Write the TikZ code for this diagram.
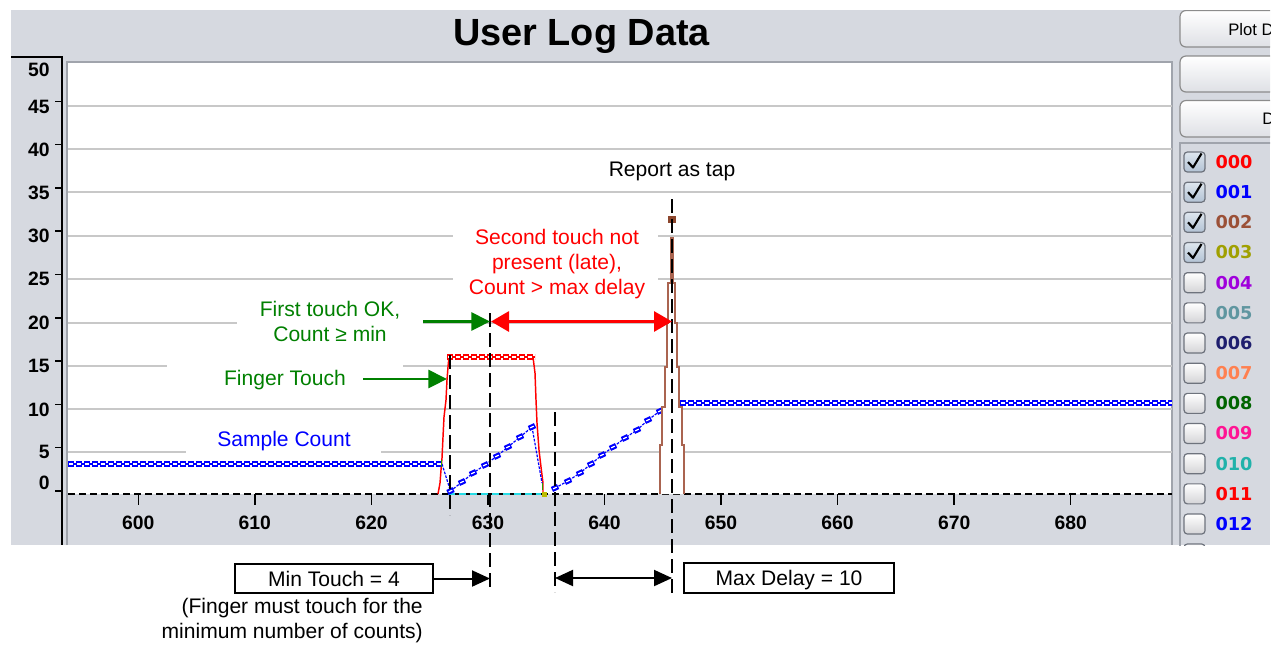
\documentclass[tikz,border=0pt]{standalone}
\usepackage{fontspec}
\setmainfont{Liberation Sans}
\newfontfamily\listfont{DejaVu Sans}
\usetikzlibrary{arrows.meta}

\definecolor{panel}{RGB}{214,217,224}
\definecolor{frame}{RGB}{160,164,172}
\definecolor{gridgray}{RGB}{200,200,200}
\definecolor{tgreen}{RGB}{0,128,0}
\definecolor{tred}{RGB}{255,0,0}
\definecolor{tblue}{RGB}{0,0,255}
\definecolor{spikebrown}{RGB}{170,100,80}
\definecolor{spikemark}{RGB}{140,70,45}
\definecolor{zcyan}{RGB}{40,220,230}
\definecolor{c000}{RGB}{255,0,0}
\definecolor{c001}{RGB}{0,0,255}
\definecolor{c002}{RGB}{155,80,55}
\definecolor{c003}{RGB}{160,160,0}
\definecolor{c004}{RGB}{160,0,220}
\definecolor{c005}{RGB}{95,150,160}
\definecolor{c006}{RGB}{30,30,110}
\definecolor{c007}{RGB}{255,128,80}
\definecolor{c008}{RGB}{0,100,0}
\definecolor{c009}{RGB}{255,20,147}
\definecolor{c010}{RGB}{32,178,170}
\definecolor{c011}{RGB}{255,0,0}
\definecolor{c012}{RGB}{0,0,255}
\definecolor{btnborder}{RGB}{140,140,140}
\definecolor{boxborder}{RGB}{110,115,125}

% patterned trace: hollow blocks joined by a thin line
\newcommand\ladderline[2]{%
  \draw[#1, line width=0.8pt] #2;
  \draw[#1, line width=4.5pt, dash pattern=on 4.8pt off 1.2pt] #2;
  \draw[white, line width=1pt, dash pattern=on 2.8pt off 3.2pt, dash phase=5.1pt] #2;}
% one sample marker of the count trace
\newcommand\rampmark[2]{%
  \begin{scope}[rotate around={25:(#1,#2)}]
    \fill[c001] (#1-3.4,#2-2.7) rectangle (#1+3.4,#2+2.7);
    \draw[white, line width=0.9pt] (#1-2,#2) -- (#1+2,#2);
  \end{scope}}

\begin{document}
\begin{tikzpicture}[x=0.75pt,y=-0.75pt,
  note/.style={font=\fontsize{15.8}{18.75}\selectfont, inner sep=0pt},
  axislabel/.style={font=\fontsize{14.5}{16}\selectfont\bfseries, inner sep=0pt},
  gridline/.style={gridgray, line width=1.1pt},
  guide/.style={black, line width=1.5pt, dash pattern=on 10.5pt off 4.5pt},
  valbox/.style={draw, line width=1.1pt, inner sep=0pt, text depth=0pt,
    font=\fontsize{15.8}{18.75}\selectfont},
  greenarrow/.style={tgreen, line width=2.1pt, -{Triangle[length=14pt,width=13.5pt]}},
  redarrow/.style={tred, line width=2.25pt, {Triangle[length=13.5pt,width=15pt]}-{Triangle[length=13.5pt,width=15pt]}},
  blackarrow/.style={black, line width=1.5pt, -{Triangle[length=13.5pt,width=12pt]}},
  blackdouble/.style={black, line width=1.5pt, {Triangle[length=13.5pt,width=12pt]}-{Triangle[length=13.5pt,width=12pt]}},
  button/.style={draw=btnborder, line width=0.9pt, top color=white, bottom color={rgb,255:red,222;green,224;blue,229}, rounded corners=4.5pt},
  checkbox/.style={draw=boxborder, line width=0.9pt, rounded corners=2.5pt},
]
\useasboundingbox (0,0) rectangle (1276,644);
\fill[white] (0,0) rectangle (1276,644);
\fill[panel] (11,10) rectangle (1270,545);

% ---- title
\node[font=\fontsize{28.4}{30}\selectfont\bfseries, anchor=base, inner sep=0pt] (title) at (581.5,45) {User Log Data};

% ---- plot area
\fill[white] (68,62) rectangle (1172,494);
\draw[frame, line width=1.5pt] (67,545) -- (67,61.5) -- (1172,61.5) -- (1172,545);

% grid lines (broken where the notes sit)
\draw[gridline] (68,106) -- (1172,106);
\draw[gridline] (68,149) -- (1172,149);
\draw[gridline] (68,192) -- (1172,192);
\draw[gridline] (68,236) -- (453,236) (658,236) -- (1172,236);
\draw[gridline] (68,279) -- (453,279) (658,279) -- (1172,279);
\draw[gridline] (68,323) -- (237,323) (423,323) -- (1172,323);
\draw[gridline] (68,366) -- (167,366) (403,366) -- (1172,366);
\draw[gridline] (68,409) -- (1172,409);
\draw[gridline] (68,452) -- (186,452) (381,452) -- (1172,452);

% y axis
\draw[black, line width=1.5pt] (11,57) -- (62,57) -- (62,545);
\foreach \v in {0,5,...,45} {
  \pgfmathsetmacro\yy{491-8.66*\v}
  \draw[black, line width=1.1pt] (55,\yy) -- (62,\yy);
}
\foreach \v/\yy in {50/70,45/107,40/150,35/193,30/236,25/279,20/323,15/366,10/410,5/452,0/483}
  \node[axislabel, anchor=east] (yl\v) at (50,\yy) {\v};

% zero line and x axis
\draw[black, line width=1.5pt, dash pattern=on 5.25pt off 3pt] (68,494) -- (1172,494);
\foreach \c in {600,610,...,680} {
  \pgfmathsetmacro\xx{138.3+11.655*(\c-600)}
  \draw[black, line width=1.1pt] (\xx,494) -- (\xx,505);
  \node[axislabel] (xl\c) at (\xx,523) {\c};
}
\draw[zcyan, line width=1.5pt, dash pattern=on 5.25pt off 3pt] (448,494) -- (541,494);

% ---- finger touch trace (000)
\draw[c000, line width=1.1pt] (438,494) -- (440,483) -- (441,470) -- (442,458) -- (443,437)
  -- (444,417) -- (446,400) -- (447,380) -- (448,367) -- (449,357);
\draw[c000, line width=1.1pt] (533,357) -- (535,373) -- (536,400) -- (537,423) -- (539,450)
  -- (541,467) -- (543,483) -- (543,494);
\ladderline{c000}{(447,357) -- (535,357)}

% ---- sample count trace (001)
\ladderline{c001}{(68,464) -- (442,464)}
\ladderline{c001}{(672,403) -- (1172,403)}
\draw[c001, line width=0.9pt, dash pattern=on 2pt off 1pt] (442,464) -- (450.5,491) -- (462,482) -- (473,473) -- (485,465)
  -- (497,456) -- (508,447) -- (520,437) -- (532,427) -- (542,483);
\draw[c001, line width=0.9pt, dash pattern=on 2pt off 1pt] (555,488) -- (568,481) -- (580,473) -- (591,464) -- (602,455)
  -- (613,447) -- (625,438) -- (637,430) -- (648,420) -- (660,411) -- (672,403);
\foreach \x/\y in {450.5/491,462/482,473/473,485/465,497/456,508/447,520/437,532/427,
  555/488,568/481,580/473,591/464,602/455,613/447,625/438,637/430,648/420,660/411}
  {\rampmark{\x}{\y}}
\draw[tgreen!80!lime, line width=1.1pt] (441.5,460) -- (441.5,467);
\draw[tgreen!80!lime, line width=1.1pt] (542.5,483) -- (542.5,490);
\fill[c003!70!yellow] (541.5,491.5) rectangle (546.5,496.5);

% ---- tap spike (002)
\filldraw[fill=white, draw=spikebrown, line width=1.5pt]
  (660,494) -- (660,445) -- (662,445) -- (662,407) -- (665,407) -- (665,367) -- (667,367)
  -- (667,323) -- (668,323) -- (668,283) -- (671,283) -- (671,238) -- (673,238) -- (673,283)
  -- (675,283) -- (675,323) -- (677,323) -- (677,367) -- (679,367) -- (679,407) -- (682,407)
  -- (682,445) -- (684,445) -- (684,494);
\fill[spikemark] (668,216) rectangle (676,223);

% ---- guide lines
\coordinate (v1t) at (450,355);  \coordinate (v1b) at (450,515);
\coordinate (v2t) at (490,313);  \coordinate (v2b) at (490,592);
\coordinate (v3t) at (555,412);  \coordinate (v3b) at (555,592);
\coordinate (v4t) at (672,199);  \coordinate (v4b) at (672,597);
\draw[guide] (v1t) -- (v1b);
\draw[guide] (v2t) -- (v2b);
\draw[guide] (v3t) -- (v3b);
\draw[guide] (v4t) -- (v4b);

% ---- notes and their arrows
\node[note, anchor=base] (tap) at (672,176.5) {Report as tap};
\node[note, text=tred, align=center, anchor=north] (late) at (557,228.8)
  {Second touch not\\present (late),\\Count > max delay};
\node[note, text=tgreen, align=center, anchor=north] (firstok) at (330,300.8)
  {First touch OK,\\Count ≥ min};
\node[note, text=tgreen, anchor=base] (finger) at (285,385) {Finger Touch};
\node[note, text=tblue, anchor=base] (sample) at (284,446) {Sample Count};

\coordinate (okstart) at (423,321.5);   \coordinate (okend) at (490,321.5);
\coordinate (lateleft) at (491,321.5);  \coordinate (lateright) at (672,321.5);
\coordinate (ftstart) at (363,379);     \coordinate (ftend) at (447,379);
\draw[greenarrow] (okstart) -- (okend);
\draw[greenarrow] (ftstart) -- (ftend);
\draw[redarrow] (lateleft) -- (lateright);

% ---- parameter boxes below the plot
\node[valbox, minimum width=148.5pt, minimum height=21.75pt] (mintouch) at (334,578.5) {Min Touch = 4};
\node[note, align=right, anchor=north east] (mintouchnote) at (423,597.5)
  {(Finger must touch for the\\minimum number of counts)};
\node[valbox, minimum width=157.5pt, minimum height=22.5pt] (maxdelay) at (789,578) {Max Delay = 10};
\coordinate (mtstart) at (433.5,578.5);
\coordinate (mtend) at (490,578.5);
\coordinate (mdleft) at (555,578);  \coordinate (mdright) at (672,578);
\draw[blackarrow] (mtstart) -- (mtend);
\draw[blackdouble] (mdleft) -- (mdright);

% ---- channel panel
\begin{scope}
  \clip (1172,10) rectangle (1270,545);
  \draw[button] (1180,10.5) rectangle (1300,47);
  \draw[button] (1180,56) rectangle (1300,92);
  \draw[button] (1180,100.5) rectangle (1300,137);
  \node[font=\fontsize{12.5}{14}\selectfont, anchor=west, inner sep=0pt] (plotbtn) at (1228,29.5) {Plot D};
  \node[font=\fontsize{12.5}{14}\selectfont, anchor=west, inner sep=0pt] (thirdbtn) at (1262,119) {D};
  \draw[frame, line width=1.1pt] (1180,546) -- (1180,143) -- (1275,143);
  \foreach \i/\lab/\chk in {0/000/1,1/001/1,2/002/1,3/003/1,4/004/0,5/005/0,6/006/0,
      7/007/0,8/008/0,9/009/0,10/010/0,11/011/0,12/012/0} {
    \pgfmathsetmacro\yy{162+30.17*\i}
    \ifnum\chk=1
      \draw[checkbox, top color={rgb,255:red,222;green,230;blue,238}, bottom color={rgb,255:red,178;green,194;blue,212}]
        (1184,\yy-10) rectangle (1205,\yy+10);
      \draw[black, line width=1.6pt, line join=round] (1188,\yy) -- (1193,\yy+5.5) -- (1201.5,\yy-8.5);
    \else
      \draw[checkbox, top color=white, bottom color={rgb,255:red,212;green,212;blue,215}]
        (1184,\yy-10) rectangle (1205,\yy+10);
    \fi
    \node[font=\listfont\fontsize{13.3}{15}\selectfont\bfseries, text=c\lab, inner sep=0pt] (lg\lab) at (1234,\yy) {\lab};
  }
  \draw[checkbox, top color=white, bottom color={rgb,255:red,212;green,212;blue,215}]
    (1184,544) rectangle (1205,564);
\end{scope}
\end{tikzpicture}
\end{document}
